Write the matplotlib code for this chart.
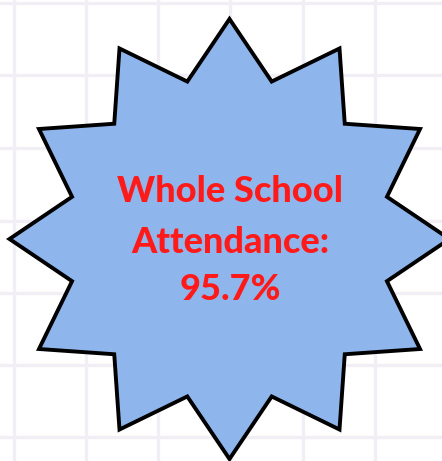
import numpy as np
import matplotlib
matplotlib.use("Agg")
import matplotlib.pyplot as plt
from matplotlib.patches import Polygon

# Content
title_lines = ["Whole School", "Attendance:", "95.7%"]
attendance_pct = 95.7
n_points = 12

W, H, DPI = 442, 461, 100
fig = plt.figure(figsize=(W / DPI, H / DPI), dpi=DPI)
fig.patch.set_facecolor("white")
ax = fig.add_axes([0, 0, 1, 1])
ax.set_xlim(0, W)
ax.set_ylim(H, 0)
ax.axis("off")

# background grid
grid_col = "#f2eef5"
for x in [14, 86, 158, 230, 303, 375]:
    ax.axvline(x, color=grid_col, lw=2.4, zorder=0)
for y in [3, 75, 148, 221, 293, 365, 437]:
    ax.axhline(y, color=grid_col, lw=2.4, zorder=0)

# starburst
cx, cy = 229.5, 239
r_out, r_in = 220, 163
angles = np.deg2rad(90 - np.arange(2 * n_points) * (360 / (2 * n_points)))
radii = np.where(np.arange(2 * n_points) % 2 == 0, r_out, r_in)
xs = cx + radii * np.cos(angles)
ys = cy - radii * np.sin(angles)
star = Polygon(np.column_stack([xs, ys]), closed=True, facecolor="#8fb6ec",
               edgecolor="black", lw=2.8, joinstyle="miter", zorder=2)
ax.add_patch(star)

red = "#ff1a1a"
baselines = [202, 253, 300]
for txt, yb in zip(title_lines, baselines):
    ax.text(230, yb, txt, ha="center", va="baseline", color=red,
            fontsize=26, fontweight="black", family=["Lato", "DejaVu Sans"], zorder=3)

fig.savefig("out.png", dpi=DPI, facecolor="white")
